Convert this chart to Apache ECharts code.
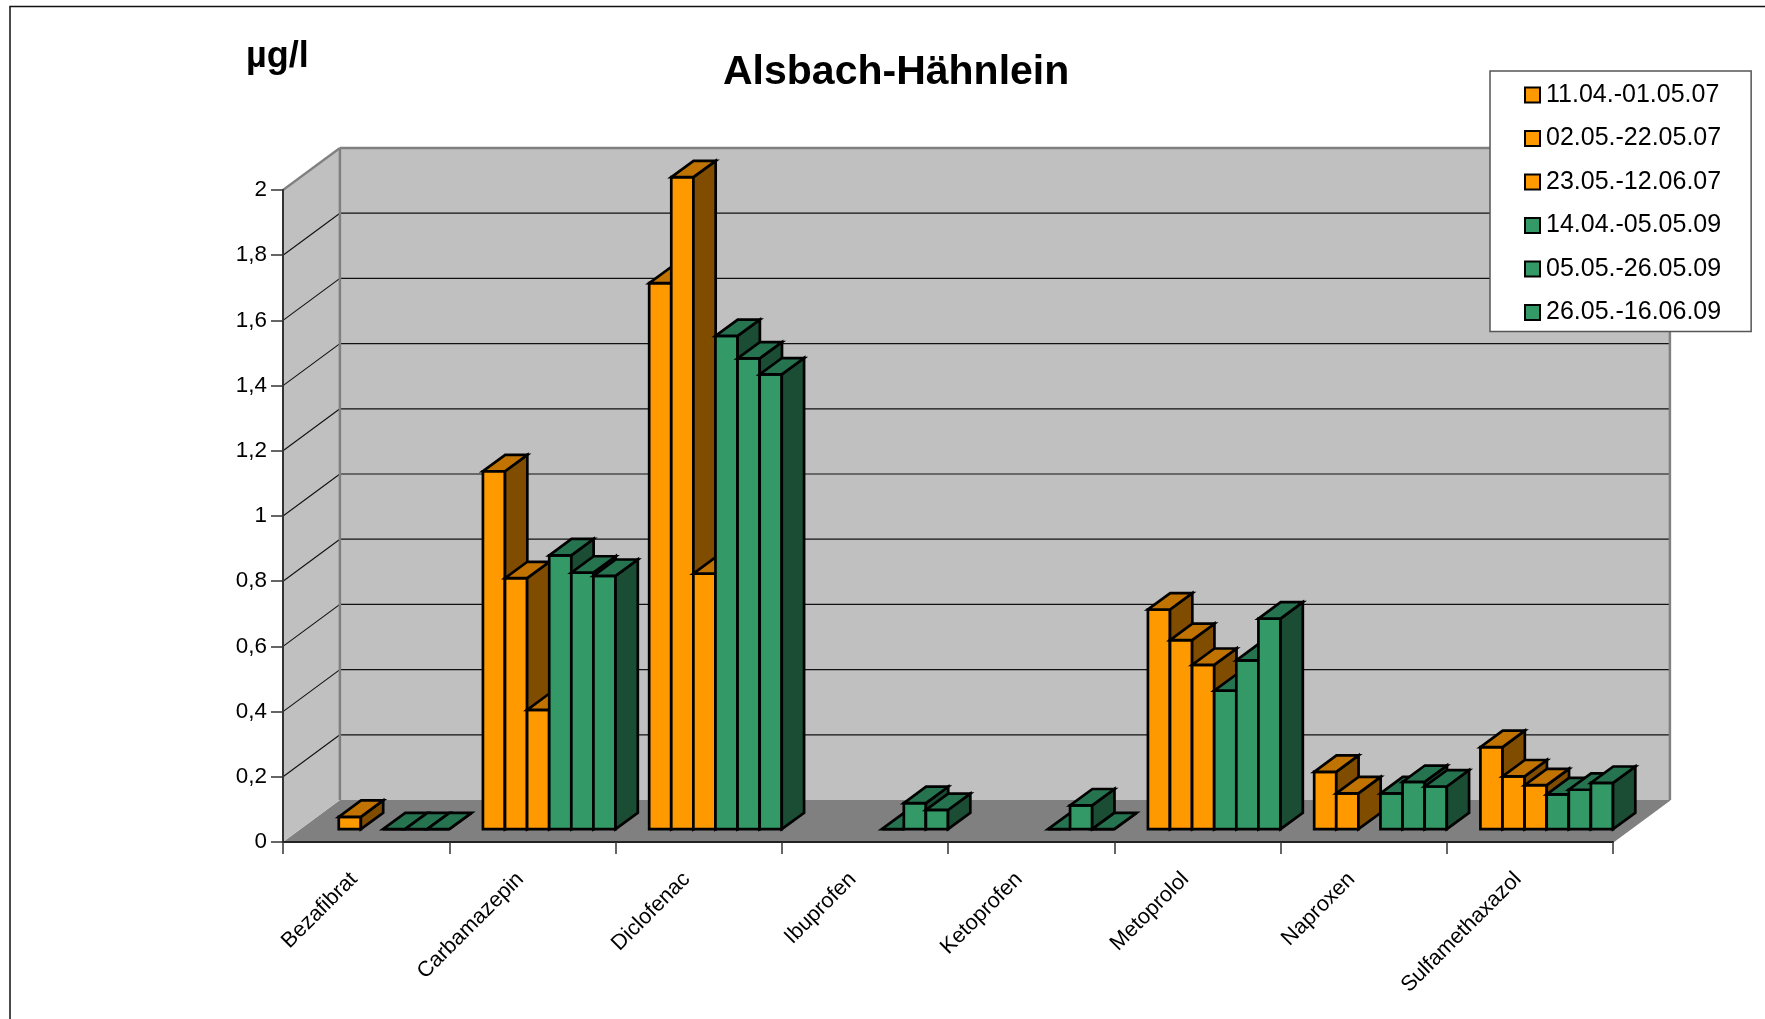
<!DOCTYPE html>
<html><head><meta charset="utf-8">
<script src="https://cdn.jsdelivr.net/npm/echarts@6/dist/echarts.min.js"></script>
<style>html,body{margin:0;padding:0;background:#fff}#c{width:1765px;height:1019px}</style>
</head><body><div id="c"></div>
<script>
const categories = ['Bezafibrat','Carbamazepin','Diclofenac','Ibuprofen','Ketoprofen','Metoprolol','Naproxen','Sulfamethaxazol'];
const yTicks = [0,0.2,0.4,0.6,0.8,1,1.2,1.4,1.6,1.8,2];
const seriesNames = ['11.04.-01.05.07','02.05.-22.05.07','23.05.-12.06.07','14.04.-05.05.09','05.05.-26.05.09','26.05.-16.06.09'];
const s1 = [null,1.098,1.675,null,null,0.674,0.176,0.252];
const s2 = [0.038,0.77,2.0,null,null,0.58,0.11,0.162];
const s3 = [null,0.366,0.784,null,null,0.504,null,0.135];
const s4 = [0,0.84,1.513,0,0,0.425,0.11,0.107];
const s5 = [0,0.787,1.444,0.08,0.073,0.518,0.145,0.121];
const s6 = [0,0.777,1.395,0.059,0,0.646,0.131,0.142];
const seriesValues = [s1,s2,s3,s4,s5,s6];

const ORANGE = {front:'#FF9900', top:'#C07300', side:'#804D00'};
const GREEN  = {front:'#339966', top:'#267350', side:'#1A4D33'};
const WALL_DX = 56.9, WALL_DY = -42;
const BAR_DX = 22.3, BAR_DY = -16.4;
const OFF_DX = (WALL_DX-BAR_DX)/2, OFF_DY = (WALL_DY-BAR_DY)/2;
const FONT = '"Liberation Sans", Arial, sans-serif';

function poly(points, fill, stroke, lw, z2){
  return {type:'polygon', shape:{points}, z2:z2||0,
    style:{fill, stroke:stroke||'#000', lineWidth:lw===undefined?2.7:lw, lineJoin:'miter'}};
}
function line(a,b,stroke,lw){
  return {type:'line', shape:{x1:a[0],y1:a[1],x2:b[0],y2:b[1]}, style:{stroke, lineWidth:lw, fill:null}, z2:2};
}
function renderWalls(params, api){
  const L = api.coord([0,0])[0]-api.size([1,0])[0]/2;
  const R = L + api.size([1,0])[0]*categories.length;
  const y0 = api.coord([0,0])[1], yM = api.coord([0,2])[1];
  const dx = WALL_DX, dy = WALL_DY;
  const kids = [
    poly([[L,y0],[L+dx,y0+dy],[R+dx,y0+dy],[R,y0]],'#808080','none',0),
    poly([[L,y0],[L,yM],[L+dx,yM+dy],[L+dx,y0+dy]],'#C0C0C0','none',0),
    poly([[L+dx,yM+dy],[R+dx,yM+dy],[R+dx,y0+dy],[L+dx,y0+dy]],'#C0C0C0','none',0)
  ];
  yTicks.forEach(t=>{
    if(t===0||t===2) return;
    const y = api.coord([0,t])[1];
    kids.push(line([L,y],[L+dx,y+dy],'#111',1.1));
    kids.push(line([L+dx,y+dy],[R+dx,y+dy],'#111',1.2));
  });
  kids.push(line([L,yM],[L+dx,yM+dy],'#808080',2.2));
  kids.push(line([L+dx,yM+dy],[R+dx,yM+dy],'#808080',2.5));
  kids.push(line([L+dx,yM+dy],[L+dx,y0+dy],'#808080',2.5));
  kids.push(line([R+dx,yM+dy],[R+dx,y0+dy],'#808080',2.5));
  kids.push(line([R,y0],[R+dx,y0+dy],'#808080',1.5));
  return {type:'group', children:kids};
}
function barRenderer(idx, pal){
  return function(params, api){
    const cat = api.value(0), v = api.value(1);
    const band = api.size([1,0])[0];
    const c0 = api.coord([cat,0]), c1 = api.coord([cat,v]);
    const w = 22.1;
    const x0 = c0[0]-band/2 + OFF_DX + (band-OFF_DX-w*6)/2 + w*idx + 8.2;
    const x1 = x0+w;
    const yb = c0[1]+OFF_DY, yt = c1[1]+OFF_DY;
    return {type:'group', children:[
      poly([[x0,yb],[x1,yb],[x1,yt],[x0,yt]],pal.front),
      poly([[x1,yb],[x1+BAR_DX,yb+BAR_DY],[x1+BAR_DX,yt+BAR_DY],[x1,yt]],pal.side),
      poly([[x0,yt],[x1,yt],[x1+BAR_DX,yt+BAR_DY],[x0+BAR_DX,yt+BAR_DY]],pal.top)
    ]};
  };
}
const series = [{
  type:'custom', name:'walls', silent:true, z:1, clip:false,
  data:[[0,0]], encode:{x:0,y:1}, renderItem:renderWalls
}];
seriesNames.forEach((name,i)=>{
  const pal = i<3?ORANGE:GREEN;
  const data = [];
  seriesValues[i].forEach((v,c)=>{ if(v!==null) data.push([c,v]); });
  series.push({type:'custom', name, z:3, clip:false, data, encode:{x:0,y:1},
    itemStyle:{color:pal.front,borderColor:'#000',borderWidth:2},
    renderItem:barRenderer(i,pal)});
});
const chart = echarts.init(document.getElementById('c'),null,{renderer:'canvas'});
chart.setOption({
  animation:false,
  backgroundColor:'#fff',
  textStyle:{fontFamily:FONT,color:'#000'},
  graphic:[{type:'polyline',z:0,shape:{points:[[10,1019],[10,6.5],[1765,6.5]]},style:{stroke:'#111',lineWidth:1.5,fill:null}}],
  title:[
    {text:'Alsbach-Hähnlein',left:723,top:52,textStyle:{fontFamily:FONT,fontSize:41,fontWeight:'bold',color:'#000'},padding:0},
    {text:'µg/l',left:246,top:39,textStyle:{fontFamily:FONT,fontSize:36,fontWeight:'bold',color:'#000'},padding:0}
  ],
  legend:{
    orient:'vertical',left:1490,top:71,z:10,
    data:seriesNames.map((n,i)=>({name:n,icon:'rect',itemStyle:{color:i<3?ORANGE.front:GREEN.front,borderColor:'#000',borderWidth:2}})),
    itemWidth:15,itemHeight:15,itemGap:15.5,
    backgroundColor:'#fff',borderColor:'#555',borderWidth:1.5,
    padding:[10,30,5,34],
    textStyle:{fontFamily:FONT,fontSize:25,color:'#000',padding:[0,0,0,1],lineHeight:28},
    selectedMode:false
  },
  grid:{left:283,top:190,width:1330,height:652,containLabel:false},
  xAxis:{type:'category',data:categories,z:5,
    axisLine:{lineStyle:{color:'#222',width:2}},
    axisTick:{show:true,length:12,lineStyle:{color:'#333',width:1.5}},
    axisLabel:{rotate:45,interval:0,margin:22,fontFamily:FONT,fontSize:21.6,color:'#000',padding:[0,17,0,0]},
    splitLine:{show:false}},
  yAxis:{type:'value',min:0,max:2,interval:0.2,z:5,
    axisLine:{show:true,lineStyle:{color:'#333',width:2}},
    axisTick:{show:true,length:12,lineStyle:{color:'#333',width:1.5}},
    splitLine:{show:false},
    axisLabel:{margin:16,fontFamily:FONT,fontSize:22.4,color:'#000',padding:[4,0,0,0],
      formatter:v=>String(v).replace('.',',')}},
  series
});
</script></body></html>
